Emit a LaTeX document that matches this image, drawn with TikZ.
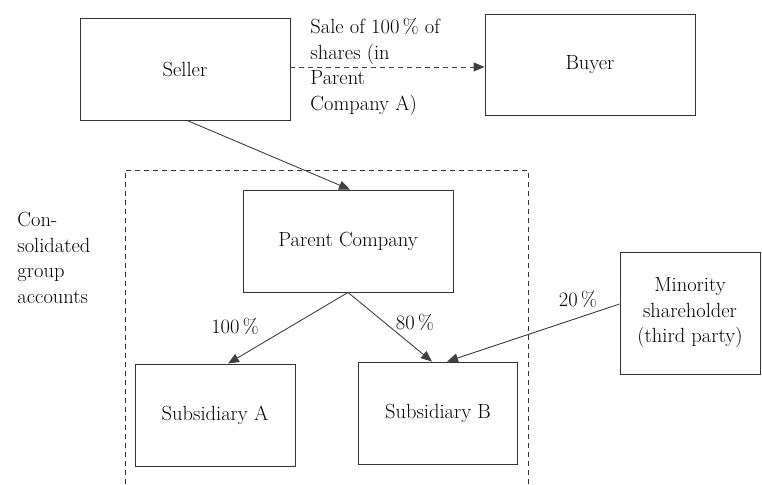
\documentclass[tikz,border=0pt]{standalone}
\usetikzlibrary{arrows.meta}

\begin{document}
\begin{tikzpicture}[x=1pt, y=-1pt, line width=0.9pt, draw=black!80,
        font=\fontsize{20.5}{25.5}\selectfont,
        box/.style = {draw, rectangle, inner sep=0pt},
        arr/.style = {-{Triangle[length=11pt, width=9pt]}, draw=black!75},
        lbl/.style = {align=left, inner sep=0pt},
        dashline/.style = {dash pattern=on 5pt off 4pt}] 
            \useasboundingbox (0,0) rectangle (762,484);

            % boxes
            \node[box, minimum width=210pt, minimum height=102pt] (seller) at (185,69) {Seller};
            \node[box, minimum width=210pt, minimum height=101pt] (buyer) at (590,65) {Buyer};
            \node[box, minimum width=210pt, minimum height=102pt] (parent) at (348,241) {Parent Company};
            \node[box, minimum width=160pt, minimum height=102pt] (subA) at (215,415) {Subsidiary A};
            \node[box, minimum width=159pt, minimum height=102pt] (subB) at (438,413) {Subsidiary B};
            \node[box, minimum width=140pt, minimum height=122pt, align=center] (minority) at (690,313) {Minority\\shareholder\\(third party)};

            % group boundary
            \draw[dashline, line width=0.7pt] (125,484) -- (125,170) -- (528,170) -- (528,484);
            \node[lbl, anchor=north west] (group) at (17,212) {Con-\\solidated\\group\\accounts};

            % arrows
            \draw[arr, dashline] ([yshift=2pt]seller.east) -- ([yshift=-2pt]buyer.west);
            \node[lbl, anchor=north west] (sale) at (310,18) {Sale of 100\,\% of\\shares (in\\Parent\\Company A)};
            \draw[arr] ([xshift=2pt]seller.south) -- ([xshift=2pt]parent.north);
            \draw[arr] (parent.south) -- ([xshift=13pt]subA.north);
            \draw[arr] (parent.south) -- ([xshift=-6pt]subB.north);
            \draw[arr] ([yshift=9pt]minority.west) -- ([xshift=9pt]subB.north);
            \node (pA) at (235,326) {100\,\%};
            \node (pB) at (415,322) {80\,\%};
            \node (pM) at (578,299) {20\,\%};
        \end{tikzpicture}
\end{document}
